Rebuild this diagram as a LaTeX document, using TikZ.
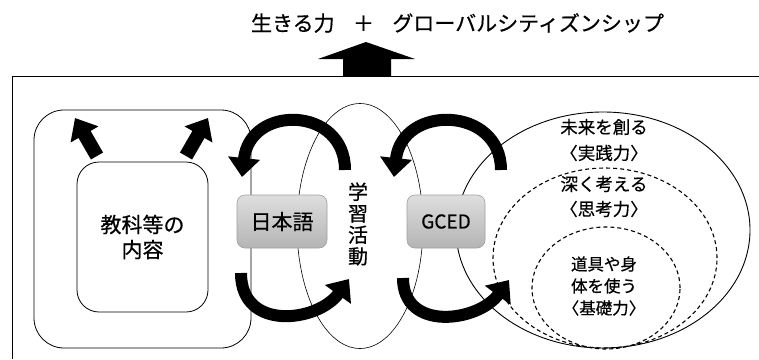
\documentclass[tikz,border=0pt]{standalone}
\usepackage{fontspec}
\setmainfont{Noto Sans CJK JP}[FakeBold=0.5]
\usetikzlibrary{arrows.meta,shapes.geometric}
\definecolor{boxtop}{HTML}{DEDEDE}
\definecolor{boxbot}{HTML}{B4B4B4}
\definecolor{boxline}{HTML}{A0A0A0}
\begin{document}
\begin{tikzpicture}[x=1pt,y=-1pt,
  frameline/.style={draw=black,line width=0.8pt},
  roundbox/.style={draw=black,line width=0.8pt,rectangle,inner sep=0pt},
  ellipseline/.style={draw=black,ellipse,inner sep=0pt},
  dashline/.style={draw=black,ellipse,inner sep=0pt,line width=1.1pt,dash pattern=on 4pt off 3pt},
  graybox/.style={rectangle,rounded corners=8pt,draw=boxline,line width=0.6pt,top color=boxtop,bottom color=boxbot,inner sep=0pt,minimum height=53pt,font=\fontsize{21}{21}\selectfont},
  loopArrow/.style={line width=12pt,-{Triangle[length=19pt,width=31pt]}},
  smallArrow/.style={line width=14pt,-{Triangle[length=19pt,width=31pt]}},
  rtext/.style={inner sep=0pt,font=\fontsize{17.5}{17.5}\selectfont},
  itext/.style={inner sep=0pt,font=\fontsize{16.5}{16.5}\selectfont}
]
\useasboundingbox (0,0) rectangle (759,359);
\fill[white] (0,0) rectangle (759,359);

% title and big up arrow
\node[inner sep=0pt,font=\fontsize{21}{21}\selectfont] (title) at (457.5,23)
  {生きる力\hspace{0.875em}＋\hspace{0.875em}グローバルシティズンシップ};
\fill[black] (343,76) -- (343,59) -- (318,59) -- (366,42) -- (415,59) -- (391,59) -- (391,76) -- cycle;

% frame
\draw[frameline] (759,76) -- (12,76) -- (12,359);

% left rounded rectangles
\node[roundbox,rounded corners=30pt,minimum width=217pt,minimum height=238pt] (outer) at (142.5,229) {};
\node[roundbox,rounded corners=22pt,minimum width=131pt,minimum height=150pt,align=center,
      font=\fontsize{21}{25}\selectfont] (inner) at (142.5,237) {教科等の\\内容};

% ellipses
\node[ellipseline,line width=0.6pt,minimum width=126pt,minimum height=245pt] (study) at (360,226) {};
\node[ellipseline,line width=0.9pt,minimum width=294pt,minimum height=236pt] (big) at (603,230) {};
\node[dashline,minimum width=224pt,minimum height=180pt] (mid) at (605,258) {};
\node[dashline,minimum width=148pt,minimum height=122pt] (small) at (606,288) {};

% texts of study ellipse
\node[inner sep=0pt,align=center,font=\fontsize{20}{21.5}\selectfont] (studytext) at (358,224) {学\\習\\活\\動};

% texts of right ellipses
\node[rtext] (t1) at (604,127) {未来を創る};
\node[rtext] (t2) at (604,153) {〈実践力〉};
\node[rtext] (t3) at (604,184) {深く考える};
\node[rtext] (t4) at (604,209) {〈思考力〉};
\node[itext] (t5) at (604,264) {道具や身};
\node[itext] (t6) at (604,286) {体を使う};
\node[itext] (t7) at (604,308) {〈基礎力〉};

% small arrows from inner box
\coordinate (la0) at (97,156);
\coordinate (la1) at (75,118);
\coordinate (ra0) at (186,156);
\coordinate (ra1) at (208,118);
\draw[smallArrow] (la0) -- (la1);
\draw[smallArrow] (ra0) -- (ra1);

% loop arrows around Japanese box
\coordinate (jt0) at (345,170);
\coordinate (jt1) at (242,177);
\coordinate (jb0) at (241,273);
\coordinate (jb1) at (349,279);
\draw[loopArrow] (jt0) .. controls (345,106) and (250,104) .. (jt1);
\draw[loopArrow] (jb0) .. controls (241,332) and (318,322) .. (jb1);

% loop arrows around GCED box
\coordinate (gt0) at (501,170);
\coordinate (gt1) at (394,177);
\coordinate (gb0) at (403,278);
\coordinate (gb1) at (509,280);
\draw[loopArrow] (gt0) .. controls (501,106) and (402,104) .. (gt1);
\draw[loopArrow] (gb0) .. controls (403,332) and (478,322) .. (gb1);

% gray boxes
\node[graybox,minimum width=90pt] (jp) at (282,221.5) {日本語};
\node[graybox,minimum width=78pt,font=\fontsize{19}{19}\selectfont] (gced) at (446,221.5) {GCED};
\end{tikzpicture}
\end{document}
